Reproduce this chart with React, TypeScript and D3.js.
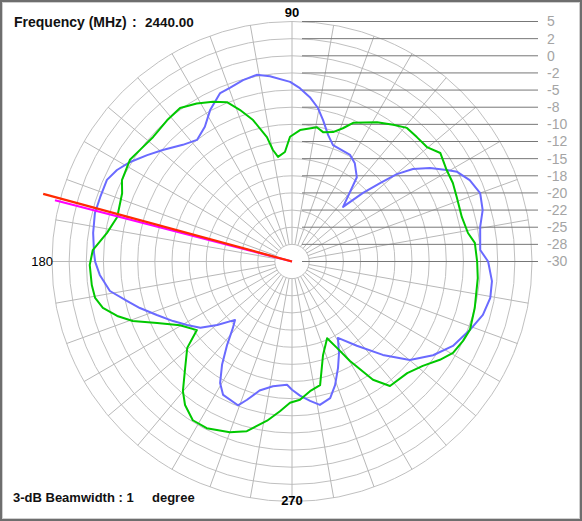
import * as d3 from 'd3';

// Measured patterns, angle in degrees (0 = right, counter-clockwise), level in dB
const blueAngles = [0, 3.5, 10.4, 15.1, 20.0, 24.6, 28.5, 30.6, 34.1, 37.4, 39.8, 41.7, 44.0, 46.9, 52.4, 57.4, 61.4, 70.6, 74.1, 77.6, 80.4, 83.8, 87.4, 90.6, 96.8, 100.7, 105.1, 109.7, 113.1, 118.4, 122.9, 128.0, 133.1, 139.2, 143.7, 148.4, 152.4, 156.2, 161.4, 166.2, 171.8, 177.5, 180.1, 184.0, 189.2, 193.5, 197.0, 201.6, 206.6, 211.2, 215.9, 220.3, 225.7, 228.4, 232.1, 235.9, 239.4, 242.7, 249.4, 252.0, 255.9, 261.3, 267.7, 270, 273.4, 277.4, 281.0, 285.6, 289.2, 293.4, 297.2, 301.0, 307.6, 314.2, 320.1, 326.4, 332.3, 339.0, 344.4, 349.6, 354.4];
const blueDb = [-1.4, -2.5, -2.1, -1.2, -0.8, -1.5, -2.6, -3.8, -5.7, -7.8, -10.1, -12.8, -15.6, -19.1, -14.5, -13.0, -12.3, -12.0, -10.8, -8.9, -7.3, -5.9, -4.7, -3.8, -2.8, -2.3, -2.6, -3.1, -3.3, -4.9, -6.6, -7.5, -6.7, -5.1, -3.8, -2.3, -1.2, -0.5, -0.5, -0.4, -0.7, -1.1, -1.3, -1.9, -3.1, -5.3, -6.8, -8.8, -10.6, -12.1, -13.5, -15.7, -18.1, -17.0, -14.6, -11.8, -9.4, -8.1, -7.6, -8.8, -10.6, -11.6, -12.0, -11.3, -10.4, -9.5, -8.7, -9.3, -10.9, -13.1, -15.0, -17.0, -14.5, -11.0, -7.6, -5.3, -3.5, -2.2, -1.1, -0.6, -0.7];

const greenAngles = [0, 5.8, 9.2, 14.7, 21.4, 26.0, 30.6, 36.2, 40.3, 44.9, 49.3, 53.5, 58.6, 66.2, 69.1, 72.4, 76.5, 79.5, 86.5, 90.9, 93.7, 97.6, 99.7, 101.4, 105.4, 109.0, 112.2, 116.3, 121.1, 126.1, 131.5, 138.1, 143.7, 147.9, 154.4, 158.1, 165.7, 171.2, 176.7, 181.0, 186.7, 190.5, 193.8, 197.3, 200.5, 204.5, 209.6, 215.8, 219.5, 224.9, 229.9, 233.3, 238.0, 242.9, 250.0, 255.1, 261.1, 265.4, 269.2, 273.3, 277.9, 282.8, 288.3, 294.6, 297.5, 300.2, 304.4, 308.2, 315.9, 321.4, 326.4, 330.4, 335.1, 339.0, 345.7, 354.9];
const greenDb = [-3.0, -3.2, -4.0, -4.4, -4.2, -3.9, -3.8, -3.2, -4.2, -4.3, -4.3, -5.2, -6.2, -7.9, -9.2, -10.2, -10.6, -10.1, -10.8, -11.8, -14.0, -14.6, -13.5, -11.5, -8.6, -6.6, -4.9, -4.0, -3.1, -2.3, -2.5, -2.8, -2.5, -2.1, -2.5, -3.3, -3.7, -2.7, -0.9, -0.5, -0.6, -0.8, -1.6, -3.3, -5.2, -8.4, -11.2, -12.9, -10.2, -8.0, -5.3, -3.9, -2.7, -2.7, -3.5, -4.4, -6.5, -8.1, -9.4, -9.8, -10.9, -11.5, -15.6, -17.7, -15.8, -13.2, -9.1, -6.9, -6.6, -5.6, -4.1, -3.0, -2.5, -2.2, -2.5, -2.8];

// beam direction markers: angle (deg) and length (dB)
const markerAngles = [164.8, 165.5];
const markerDb = [7.6, 5.7];
const markerColors = ['#ff2a00', '#ff00ff'];

// ring labels, outer to inner
const ringLabels = ['5', '2', '0', '-2', '-5', '-8', '-10', '-12', '-15', '-18', '-20', '-22', '-25', '-28', '-30'];
const spokeAngles = d3.range(0, 360, 10);

const W = 582;
const H = 521;
const cx = 292;
const cy = 261.5;
const R = 240;

const r = d3.scaleLinear().domain([-30, 5]).range([0, R]);
const rings = d3.range(1, 15).map(k => -30 + k * 2.5);

const toRad = (deg: number) => (deg * Math.PI) / 180;
const radial = d3
  .lineRadial<[number, number]>()
  .angle(d => toRad(90 - d[0]))
  .radius(d => r(d[1]))
  .curve(d3.curveLinearClosed);

const bluePts = blueAngles.map((a, i) => [a, blueDb[i]] as [number, number]);
const greenPts = greenAngles.map((a, i) => [a, greenDb[i]] as [number, number]);

const font = '"Liberation Sans", Arial, sans-serif';

export default function App() {
  const labelY = d3.scaleLinear().domain([0, 14]).range([cy - R, cy]);
  return (
    <svg width={W} height={H} style={{ position: 'absolute', left: 0, top: 0, background: '#fff' }}>
      <rect x={1} y={1} width={W - 2} height={H - 2} fill="#fff" stroke="#6e6e6e" strokeWidth={2} />
      <rect x={2.5} y={2.5} width={W - 5} height={H - 5} fill="none" stroke="#cfcfcf" strokeWidth={1} />

      <g transform={`translate(${cx},${cy})`}>
        {rings.map(v => (
          <circle key={v} r={r(v)} fill="none" stroke="#c0c0c0" strokeWidth={1} />
        ))}
        {spokeAngles.map(a => (
          <line
            key={a}
            x1={r(rings[0]) * Math.cos(toRad(a))}
            y1={-r(rings[0]) * Math.sin(toRad(a))}
            x2={R * Math.cos(toRad(a))}
            y2={-R * Math.sin(toRad(a))}
            stroke="#b8b8b8"
            strokeWidth={1}
          />
        ))}
      </g>

      {ringLabels.map((l, i) => (
        <g key={l + i}>
          <line x1={302} x2={538} y1={labelY(i)} y2={labelY(i)} stroke="#777" strokeWidth={1} />
          <text x={547} y={labelY(i)} dy="0.35em" fontFamily={font} fontSize={14} fill="#a4a4a4">
            {l}
          </text>
        </g>
      ))}

      <g transform={`translate(${cx},${cy})`}>
        <path d={radial(bluePts) ?? ''} fill="none" stroke="#6a6aff" strokeWidth={2} strokeLinejoin="round" />
        <path d={radial(greenPts) ?? ''} fill="none" stroke="#00c800" strokeWidth={2} strokeLinejoin="round" />
        {markerAngles.map((a, i) => (
          <line
            key={i}
            x1={0}
            y1={0}
            x2={r(markerDb[i]) * Math.cos(toRad(a))}
            y2={-r(markerDb[i]) * Math.sin(toRad(a))}
            stroke={markerColors[i]}
            strokeWidth={2.2}
          />
        )).reverse()}
      </g>

      <text x={cx} y={17} textAnchor="middle" fontFamily={font} fontSize={13} fontWeight="bold">90</text>
      <text x={53} y={266} textAnchor="end" fontFamily={font} fontSize={13}>180</text>
      <text x={cx} y={505} textAnchor="middle" fontFamily={font} fontSize={13} fontWeight="bold">270</text>

      <text x={14} y={27} fontFamily={font} fontSize={14} fontWeight="bold" fill="#111">Frequency (MHz)</text>
      <text x={132} y={27} fontFamily={font} fontSize={14} fontWeight="bold" fill="#111">:</text>
      <text x={145} y={27} fontFamily={font} fontSize={13.5} fontWeight="bold" fill="#111">2440.00</text>

      <text x={13} y={502} fontFamily={font} fontSize={13} fontWeight="bold" fill="#111">3-dB Beamwidth : 1</text>
      <text x={152} y={502} fontFamily={font} fontSize={13} fontWeight="bold" fill="#111">degree</text>
    </svg>
  );
}
